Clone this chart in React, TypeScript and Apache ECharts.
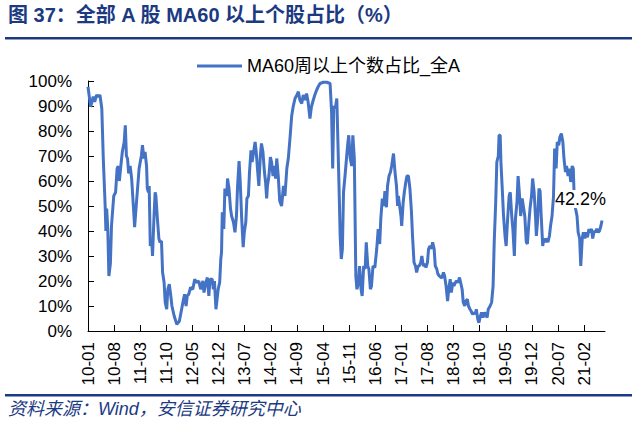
import React, { useEffect, useRef } from "react";
import * as echarts from "echarts";

const obsMonth: number[] = [
  0.0, 0.7, 1.4, 1.8, 2.3, 2.8, 3.2, 3.7, 4.1, 4.6, 4.8, 5.0, 5.3, 5.6, 6.0, 6.3, 6.9, 7.4, 7.8, 8.1,
  8.4, 8.8, 9.2, 9.7, 10.0, 10.3, 10.6, 10.9, 11.3, 11.7, 12.2, 12.5, 13.0, 13.7, 14.3, 14.6, 15.0, 15.3, 15.7, 15.9,
  16.2, 16.4, 16.7, 17.1, 17.3, 17.7, 18.0, 18.2, 18.6, 19.0, 19.3, 19.7, 20.0, 20.4, 20.7, 21.1, 21.4, 21.8, 22.2, 22.5,
  23.1, 23.8, 24.5, 25.1, 25.6, 25.9, 26.3, 26.6, 27.0, 27.5, 28.1, 28.6, 29.1, 29.7, 30.2, 30.8, 31.1, 31.5, 32.0, 32.4,
  32.7, 33.3, 33.6, 33.9, 34.3, 34.9, 35.3, 35.6, 35.8, 36.0, 36.4, 36.7, 37.2, 37.4, 37.8, 38.2, 38.5, 39.0, 39.4, 39.8,
  40.1, 40.5, 40.8, 41.2, 41.6, 41.9, 42.3, 42.6, 43.0, 43.3, 43.7, 44.0, 44.4, 44.8, 45.1, 45.5, 45.8, 46.2, 46.5, 46.9,
  47.3, 47.6, 47.9, 48.1, 48.5, 48.9, 49.2, 49.6, 49.9, 50.3, 50.6, 51.0, 51.4, 51.9, 52.4, 52.8, 53.3, 53.7, 54.2, 54.6,
  55.0, 55.5, 56.0, 56.4, 56.8, 57.3, 57.7, 58.2, 58.6, 59.0, 59.5, 59.9, 60.4, 60.8, 61.3, 61.7, 62.2, 63.1, 64.0, 64.9,
  65.3, 65.6, 65.9, 66.3, 66.7, 67.0, 67.4, 67.6, 67.9, 68.2, 68.5, 68.9, 69.3, 69.6, 69.9, 70.3, 70.7, 71.0, 71.4, 71.8,
  72.1, 72.5, 72.8, 73.2, 73.5, 73.9, 74.3, 74.6, 75.0, 75.3, 75.7, 76.0, 76.4, 76.9, 77.4, 77.8, 78.2, 78.5, 78.9, 79.3,
  79.6, 80.0, 80.3, 80.7, 81.1, 81.4, 81.9, 82.3, 82.7, 83.0, 83.2, 83.6, 83.9, 84.1, 84.5, 84.8, 85.2, 85.5, 85.9, 86.3,
  86.7, 87.0, 87.4, 87.8, 88.1, 88.5, 88.8, 89.2, 89.5, 89.9, 90.3, 90.6, 91.0, 91.3, 91.7, 92.0, 92.4, 92.8, 93.1, 93.5,
  93.8, 94.2, 94.6, 94.9, 95.3, 95.6, 96.0, 96.4, 96.7, 97.1, 97.4, 97.8, 98.1, 98.5, 98.8, 99.2, 99.6, 99.9, 100.3, 100.6,
  101.0, 101.3, 101.7, 102.0, 102.4, 102.7, 103.1, 103.5, 103.8, 104.1, 104.5, 104.8, 105.2, 105.5, 105.9, 106.3, 106.6, 107.0, 107.3, 107.8,
  108.2, 108.6, 108.9, 109.3, 109.6, 110.0, 110.2, 110.5, 110.7, 111.1, 111.4, 111.8, 112.1, 112.5, 112.9, 113.2, 113.6, 113.9, 114.3, 114.6,
  115.0, 115.3, 115.7, 116.0, 116.4, 116.8, 117.1, 117.5, 117.8, 118.2, 118.5, 118.9, 119.2, 119.6, 120.0, 120.2, 120.5, 120.9, 121.2, 121.5,
  121.9, 122.2, 122.6, 123.0, 123.3, 123.7, 124.0, 124.4, 124.8, 125.1, 125.5, 125.8, 126.2, 126.5, 126.9, 127.3, 127.6, 128.0, 128.3, 128.7,
  129.1, 129.4, 129.8, 130.1, 130.3, 130.7, 131.1, 131.4, 131.8, 132.1, 132.5, 132.8, 133.2, 133.5, 133.9, 134.3, 134.6, 135.0, 135.3, 135.7,
  136.0, 136.4, 136.8, 137.1, 137.5, 137.8,
];

// Share of A-share stocks above their 60-week MA (%)
const ma60Share: number[] = [
  97.7, 89.7, 93.7, 91.7, 94.4, 93.7, 94.4, 89, 69, 50, 40, 49, 41, 22, 27, 42, 54, 55.5, 65, 66,
  60, 66, 71.6, 75.6, 82.3, 70, 69, 63, 66, 61, 49, 41.5, 51.5, 65, 70, 74.3, 69, 71.6, 66, 57,
  55.5, 58, 34, 35.5, 30, 46, 55.5, 54, 45, 37, 35.5, 36, 23.4, 19.4, 11.4, 8.7, 16.7, 18.7, 14, 10,
  6, 2.7, 4, 8.7, 12.7, 14.7, 10, 14, 14.7, 17.4, 16.7, 20.7, 19.4, 20, 16.7, 20, 15.4, 18.7, 21.4, 14,
  20.7, 20.7, 16.7, 20, 8.7, 16.7, 19.4, 28.8, 31.5, 47.5, 40.8, 57, 54, 61, 57, 49, 46, 43.5, 39.5, 46,
  58, 68, 60, 45, 33.5, 39.5, 43.5, 53, 54, 63.6, 72.3, 67.6, 71.6, 75.6, 71.6, 63.6, 58, 70, 75, 71.6,
  63.6, 59.6, 53, 58, 62, 69.6, 67.6, 62, 66, 61, 69, 62, 52, 50, 58, 54, 65, 69, 78, 86,
  89.7, 93, 94.4, 95.7, 92.4, 91, 94.4, 92.4, 95, 91.7, 85, 89.7, 92.4, 94.4, 96.4, 97.7, 99, 99.5, 99.5, 99,
  87.7, 65, 90, 89, 93, 75.6, 51.5, 38, 28.8, 32.8, 55.5, 62, 69, 74.3, 78.3, 69, 66, 78.3, 69, 22,
  16.7, 19.4, 26, 16.7, 14, 26, 24.8, 35.5, 26, 24.8, 16.7, 18, 26, 25.4, 32.8, 40.8, 34.8, 45, 53, 50,
  56, 49.5, 58, 62, 63.6, 66, 71, 63.6, 58, 50, 54, 49.5, 46, 42, 51.5, 55.5, 59.6, 62, 62, 57,
  48, 38, 27.4, 26, 23.4, 26, 26, 27.4, 30, 26, 26.8, 25.4, 27.4, 32.8, 34, 32.8, 35.5, 32.8, 26, 24.8,
  22.8, 22, 21.4, 21.4, 23.4, 22, 18, 12, 16.7, 20.7, 15.4, 19.4, 18, 19.4, 20, 19.4, 21.4, 19.4, 16.7, 11.4,
  10, 12, 12.7, 10, 8.7, 8, 6.7, 7.4, 6.7, 8.7, 4.7, 3.3, 6, 7.4, 5.4, 7.4, 6.7, 5.4, 8.7, 10,
  11.4, 18, 35.5, 51.5, 67.6, 70, 78.3, 78.3, 67.6, 55.5, 46, 38, 34, 45, 54, 55.5, 46, 40.8, 30, 45,
  51.5, 62, 54, 46, 53, 49, 46, 35.5, 34.8, 43.5, 49, 54, 61, 55.5, 45, 38, 43.5, 57, 56, 46,
  34, 37, 35.5, 37, 35.5, 38, 42, 46, 54, 73, 65, 75.6, 74.3, 77.6, 79, 75.6, 69, 63.6, 66, 62,
  65, 59.6, 66, 65, 55.5, 49, 46, 39.5, 37, 26, 37, 39.5, 37, 39.5, 37.5, 40.8, 39.5, 40.8, 37, 40,
  39.5, 40.8, 39.5, 40, 42, 44.2,
];

// X-axis tick positions (months since 2010-01) and their labels
const xTickMonths: number[] = [0, 7, 14, 21, 28, 35, 42, 49, 56, 63, 70, 77, 84, 91, 98, 105, 112, 119, 126, 133];
const xTickLabels: string[] = [
  "10-01", "10-08", "11-03", "11-10", "12-05", "12-12", "13-07", "14-02", "14-09", "15-04",
  "15-11", "16-06", "17-01", "17-08", "18-03", "18-10", "19-05", "19-12", "20-07", "21-02",
];

const seriesName = "MA60周以上个数占比_全A";
const titleText = "图 37：全部 A 股 MA60 以上个股占比（%）";
const sourceText = "资料来源：Wind，安信证券研究中心";
const lastLabel = "42.2%";

const LATIN = "'Liberation Sans', Arial, 'Noto Sans CJK SC', sans-serif";
const NAVY = "#1C3A82";

export default function App() {
  const ref = useRef<HTMLDivElement>(null);

  useEffect(() => {
    if (!ref.current) return;
    const chart = echarts.init(ref.current, undefined, { renderer: "svg" });
    const data = obsMonth.map((m, i) => [m, ma60Share[i]]);

    chart.setOption({
      animation: false,
      backgroundColor: "#ffffff",
      textStyle: { fontFamily: LATIN },
      legend: {
        data: [seriesName],
        left: 192,
        top: 52,
        icon: "rect",
        itemWidth: 45,
        itemHeight: 3,
        itemGap: 6,
        textStyle: { fontSize: 18, color: "#000", fontFamily: LATIN },
      },
      grid: { left: 88, right: 30, top: 81, bottom: 95, containLabel: false },
      xAxis: {
        type: "value",
        min: 0,
        max: 138.6,
        splitLine: { show: false },
        axisLine: { show: true, lineStyle: { color: "#000", width: 1 } },
        axisTick: { show: true, inside: true, length: 6, customValues: xTickMonths, lineStyle: { color: "#000" } },
        axisLabel: {
          customValues: xTickMonths,
          rotate: 90,
          margin: 11,
          fontSize: 17,
          color: "#000",
          fontFamily: LATIN,
          formatter: (v: number) => {
            const i = xTickMonths.indexOf(Math.round(v));
            return i >= 0 ? xTickLabels[i] : "";
          },
        },
      },
      yAxis: {
        type: "value",
        min: 0,
        max: 100,
        interval: 10,
        splitLine: { show: false },
        axisLine: { show: true, lineStyle: { color: "#000", width: 1 } },
        axisTick: { show: true, inside: true, length: 6, lineStyle: { color: "#000" } },
        axisLabel: { formatter: "{value}%", fontSize: 17, color: "#000", margin: 16, fontFamily: LATIN },
      },
      series: [
        {
          name: seriesName,
          type: "line",
          data,
          showSymbol: false,
          symbol: "none",
          lineStyle: { color: "#4472C4", width: 3 },
          itemStyle: { color: "#4472C4" },
        },
      ],
      graphic: [
        {
          type: "text",
          left: 8,
          top: 5,
          style: {
            text: titleText,
            fontSize: 20,
            fontWeight: "bold",
            fill: NAVY,
            fontFamily: LATIN,
          },
        },
        { type: "rect", shape: { x: 5, y: 37, width: 627, height: 2.5 }, style: { fill: NAVY } },
        { type: "rect", shape: { x: 5, y: 394, width: 627, height: 2.5 }, style: { fill: NAVY } },
        {
          type: "text",
          left: 8,
          top: 400,
          style: {
            text: sourceText,
            fontSize: 18,
            fontStyle: "italic",
            fill: NAVY,
            fontFamily: LATIN,
          },
        },
        {
          type: "text",
          left: 555,
          top: 190,
          z: 10,
          style: {
            text: lastLabel,
            fontSize: 18,
            fill: "#000",
            fontFamily: LATIN,
            backgroundColor: "#ffffff",
          },
        },
      ],
    });

    return () => chart.dispose();
  }, []);

  return (
    <div
      ref={ref}
      style={{ position: "fixed", left: 0, top: 0, width: 635, height: 426 }}
    />
  );
}
